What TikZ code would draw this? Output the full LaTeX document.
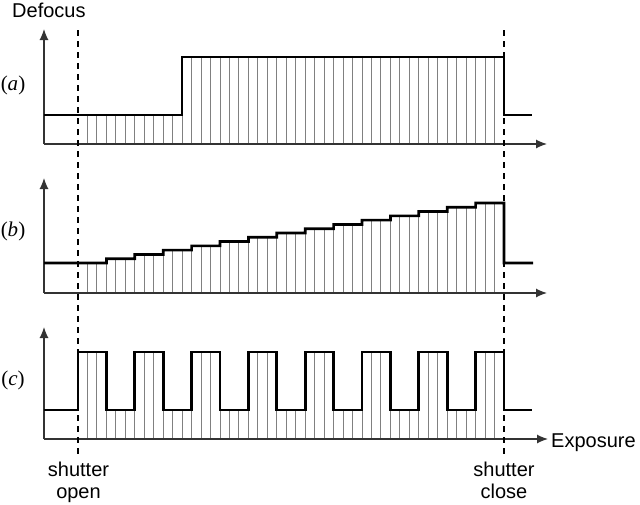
\documentclass[tikz,border=0pt]{standalone}
\usepackage{fontspec}
\setmainfont{Liberation Sans}
\newfontfamily\seriffam{Liberation Serif}
\usetikzlibrary{arrows.meta}
\tikzset{
  hatch/.style={draw=black!50, line width=0.9pt},
  axisline/.style={draw=black!80, line width=1.2pt, -{Latex[length=11pt,width=9pt]}},
  shutterline/.style={draw=black, line width=1.2pt, dash pattern=on 6pt off 5pt},
  curve/.style={draw=black, line width=2.7pt, line join=miter},
  lbl/.style={inner sep=0pt, font=\fontsize{20}{22}\selectfont},
  panellbl/.style={inner sep=0pt, font=\seriffam\fontsize{21}{23}\selectfont}
}
\begin{document}
\begin{tikzpicture}[x=1pt,y=-1pt]
\useasboundingbox (0,0) rectangle (640,504);
% hatching
\foreach \k in {1,...,44}{
  \pgfmathsetmacro\xx{78+\k*9.4667}
  \pgfmathsetmacro\la{\k<11 ? 115 : 57}
  \pgfmathsetmacro\lb{263-floor(\k/3)*4.2857}
  \pgfmathsetmacro\lc{mod(floor(\k/3),2)==0 ? 352 : 410}
  \draw[hatch] (\xx,144) -- (\xx,\la);
  \draw[hatch] (\xx,293) -- (\xx,\lb);
  \draw[hatch] (\xx,439) -- (\xx,\lc);
}
% axes
\coordinate (oa) at (44,144);
\coordinate (ya) at (44,29);
\coordinate (xa) at (547,144);
\coordinate (ob) at (44,293);
\coordinate (yb) at (44,178);
\coordinate (xb) at (547,293);
\coordinate (oc) at (44,439);
\coordinate (yc) at (44,327);
\coordinate (xc) at (548,439);
\draw[axisline] (oa) -- (ya);
\draw[axisline] (oa) -- (xa);
\draw[axisline] (ob) -- (yb);
\draw[axisline] (ob) -- (xb);
\draw[axisline] (oc) -- (yc);
\draw[axisline] (oc) -- (xc);
% shutter lines
\coordinate (opentop) at (78,30);
\coordinate (openbot) at (78,456);
\coordinate (closetop) at (504,30);
\coordinate (closebot) at (504,456);
\draw[shutterline] (opentop) -- (openbot);
\draw[shutterline] (closetop) -- (closebot);
% curves
\draw[curve] (44,115) -- (182.1,115) -- (182.1,57) -- (504,57) -- (504,115) -- (532,115);
\draw[curve] (44,263) foreach \i in {0,...,14}{ -- ({78+\i*28.4},{263-\i*4.2857}) -- ({78+(\i+1)*28.4},{263-\i*4.2857}) } -- (504,263) -- (533,263);
\draw[curve] (44,410) foreach \i in {0,...,7}{ -- ({78+2*\i*28.4},410) -- ({78+2*\i*28.4},352) -- ({78+(2*\i+1)*28.4},352) -- ({78+(2*\i+1)*28.4},410) } -- (532,410);
% labels
\node[lbl, anchor=base west] (defocus) at (12,17) {Defocus};
\node[lbl, anchor=base west] (exposure) at (551,447) {Exposure};
\node[lbl, anchor=north, align=center] (open) at (78.5,462) {shutter\\open};
\node[lbl, anchor=north, align=center] (close) at (504,462) {shutter\\close};
\node[panellbl] (pa) at (13,85) {(\textit{a})};
\node[panellbl] (pb) at (13,231) {(\textit{b})};
\node[panellbl] (pc) at (13,380) {(\textit{c})};
\end{tikzpicture}
\end{document}
